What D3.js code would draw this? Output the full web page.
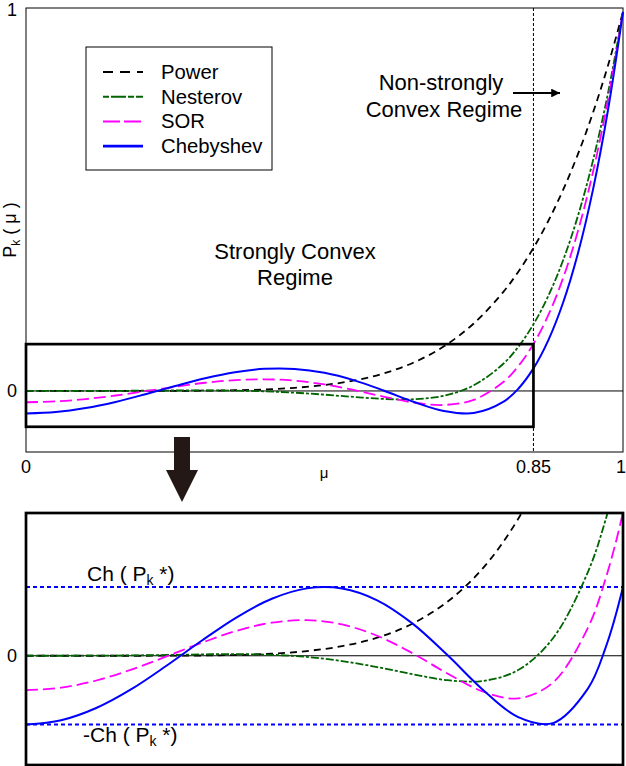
<!DOCTYPE html>
<html>
<head>
<meta charset="utf-8">
<script src="https://cdn.jsdelivr.net/npm/d3@7"></script>
<style>
  body { margin: 0; background: #fff; }
  svg { display: block; font-family: "Liberation Sans", Arial, sans-serif; }
</style>
</head>
<body>
<svg id="chart" width="626" height="766"></svg>
<script>
// values (k = 6)
const mu = [0, 0.05, 0.1, 0.15, 0.2, 0.25, 0.3, 0.35, 0.4, 0.45, 0.5, 0.55, 0.6, 0.65, 0.7, 0.75, 0.8,
            0.825, 0.85, 0.875, 0.9, 0.925, 0.95, 0.975, 1];
const power = [0, 0, 0.000001, 0.0000114, 0.000064, 0.000244, 0.000729, 0.0018, 0.0041, 0.0083, 0.0156,
               0.0277, 0.0467, 0.0754, 0.1176, 0.1780, 0.2621, 0.3153, 0.3772, 0.4488, 0.5314, 0.6264,
               0.7351, 0.8591, 1];
const nesterov = [0, 0, 0.0001, 0.0003, 0.0007, 0.0012, 0.0014, 0.0008, -0.0010, -0.0046, -0.0098,
                  -0.0159, -0.0211, -0.0218, -0.0126, 0.0149, 0.0724, 0.1172, 0.1758, 0.2510, 0.3460,
                  0.4642, 0.6095, 0.7865, 1];
const sor = [-0.0298, -0.0276, -0.0214, -0.0120, -0.0006, 0.0112, 0.0216, 0.0286, 0.0308, 0.0271, 0.0173,
             0.0023, -0.0153, -0.0308, -0.0369, -0.0233, 0.0242, 0.0662, 0.1239, 0.2004, 0.2992, 0.4242,
             0.5794, 0.7696, 1];
const chebyshev = [-0.0595, -0.0558, -0.0452, -0.0289, -0.0086, 0.0130, 0.0333, 0.0493, 0.0583, 0.0582,
                   0.0480, 0.0280, 0.0006, -0.0291, -0.0528, -0.0583, -0.0284, 0.0066, 0.0595, 0.1341,
                   0.2345, 0.3657, 0.5330, 0.7423, 1];
const chLevel = 0.0595;
const muSplit = 0.85;
const zoomBox = [-0.0945, 0.1235];
const xTickVals = [0, 0.85, 1];
const xTickText = ["0", "0.85", "1"];
const yTickVals = [0, 1];
const yTickText = ["0", "1"];
const seriesNames = ["Power", "Nesterov", "SOR", "Chebyshev"];

const svg = d3.select("#chart");
const defs = svg.append("defs");

const styles = {
  Power:     { color: "#000000", dash: "7,5",     width: 1.8, legDash: "10,7" },
  Nesterov:  { color: "#006400", dash: "8,2,3,2", width: 1.8, legDash: "6,2,15,2" },
  SOR:       { color: "#ff00ff", dash: "12,5",    width: 1.8, legDash: "17,4" },
  Chebyshev: { color: "#0000ff", dash: null,      width: 2,   legDash: null }
};
const allValues = [power, nesterov, sor, chebyshev];
const series = seriesNames.map((name, i) => ({
  name: name,
  points: mu.map((m, j) => [m, allValues[i][j]])
}));

// ---------- top panel ----------
const topBox = { left: 26, right: 623, top: 8, bottom: 452 };
const x1 = d3.scaleLinear().domain([0, 1]).range([topBox.left, topBox.right]);
const y1 = d3.scaleLinear().domain([-0.161, 1.01]).range([topBox.bottom, topBox.top]);

svg.append("rect")
  .attr("x", topBox.left).attr("y", topBox.top)
  .attr("width", topBox.right - topBox.left).attr("height", topBox.bottom - topBox.top)
  .attr("fill", "none").attr("stroke", "#000").attr("stroke-width", 1);

svg.append("line")
  .attr("x1", x1(0)).attr("x2", x1(1)).attr("y1", y1(0)).attr("y2", y1(0))
  .attr("stroke", "#000").attr("stroke-width", 1);

svg.append("line")
  .attr("x1", x1(muSplit)).attr("x2", x1(muSplit)).attr("y1", topBox.top).attr("y2", topBox.bottom)
  .attr("stroke", "#000").attr("stroke-width", 1).attr("stroke-dasharray", "3,2");

const line1 = d3.line().x(d => x1(d[0])).y(d => y1(d[1])).curve(d3.curveCatmullRom);
series.forEach(s => {
  const st = styles[s.name];
  svg.append("path")
    .attr("d", line1(s.points))
    .attr("fill", "none").attr("stroke", st.color).attr("stroke-width", st.width)
    .attr("stroke-dasharray", st.dash);
});

// zoom rectangle
svg.append("rect")
  .attr("x", x1(0)).attr("y", y1(zoomBox[1]))
  .attr("width", x1(muSplit) - x1(0)).attr("height", y1(zoomBox[0]) - y1(zoomBox[1]))
  .attr("fill", "none").attr("stroke", "#000").attr("stroke-width", 2.7);

// ticks
xTickVals.forEach((v, i) => {
  svg.append("text").attr("x", x1(v) - (v === 1 ? 2 : 0)).attr("y", 473)
    .attr("text-anchor", "middle").attr("font-size", 18).text(xTickText[i]);
});
yTickVals.forEach((v, i) => {
  svg.append("text").attr("x", 12).attr("y", y1(v) + 6.5 - (v === 1 ? 2 : 0))
    .attr("text-anchor", "middle").attr("font-size", 18).text(yTickText[i]);
});
svg.append("text").attr("x", 324).attr("y", 478)
  .attr("text-anchor", "middle").attr("font-size", 15).text("μ");

const yLab = svg.append("text")
  .attr("transform", "translate(16,230) rotate(-90)")
  .attr("text-anchor", "middle").attr("font-size", 18);
yLab.append("tspan").text("P");
yLab.append("tspan").attr("font-size", 12).attr("dy", 4).text("k");
yLab.append("tspan").attr("dy", -4).text(" ( μ )");

// legend
svg.append("rect")
  .attr("x", 86).attr("y", 47).attr("width", 186).attr("height", 123)
  .attr("fill", "#fff").attr("stroke", "#000").attr("stroke-width", 1);
seriesNames.forEach((name, i) => {
  const st = styles[name];
  const cy = 72 + i * 24.7;
  svg.append("line")
    .attr("x1", 103).attr("x2", 143).attr("y1", cy).attr("y2", cy)
    .attr("stroke", st.color).attr("stroke-width", name === "Chebyshev" ? 2.7 : 2)
    .attr("stroke-dasharray", st.legDash);
  svg.append("text").attr("x", 161).attr("y", cy + 7)
    .attr("font-size", 20.3).text(name);
});

// annotations
svg.append("text").attr("x", 295).attr("y", 259).attr("text-anchor", "middle")
  .attr("font-size", 22).text("Strongly Convex");
svg.append("text").attr("x", 295).attr("y", 285).attr("text-anchor", "middle")
  .attr("font-size", 22).text("Regime");
svg.append("text").attr("x", 441).attr("y", 90).attr("text-anchor", "middle")
  .attr("font-size", 22).text("Non-strongly");
svg.append("text").attr("x", 444).attr("y", 117).attr("text-anchor", "middle")
  .attr("font-size", 22).text("Convex Regime");

defs.append("marker")
  .attr("id", "head").attr("viewBox", "0 0 10 10").attr("refX", 10).attr("refY", 5)
  .attr("markerWidth", 5).attr("markerHeight", 4).attr("markerUnits", "strokeWidth")
  .attr("orient", "auto")
  .append("path").attr("d", "M0,0 L10,5 L0,10 Z").attr("fill", "#000");
svg.append("line")
  .attr("x1", 513).attr("x2", 560).attr("y1", 93).attr("y2", 93)
  .attr("stroke", "#000").attr("stroke-width", 2.2).attr("marker-end", "url(#head)");

// big down arrow
svg.append("path")
  .attr("d", "M174,437 L190,437 L190,470 L198,470 L182,502 L166,470 L174,470 Z")
  .attr("fill", "#231815");

// ---------- bottom panel ----------
const botBox = { left: 26, right: 623, top: 513, bottom: 765 };
const x2 = d3.scaleLinear().domain([0, muSplit]).range([botBox.left, botBox.right]);
const y2 = d3.scaleLinear().domain(zoomBox).range([botBox.bottom, botBox.top]);

defs.append("clipPath").attr("id", "clipBot")
  .append("rect").attr("x", botBox.left).attr("y", botBox.top)
  .attr("width", botBox.right - botBox.left).attr("height", botBox.bottom - botBox.top);

const gb = svg.append("g").attr("clip-path", "url(#clipBot)");
gb.append("line")
  .attr("x1", botBox.left).attr("x2", botBox.right).attr("y1", y2(0)).attr("y2", y2(0))
  .attr("stroke", "#000").attr("stroke-width", 1);
[chLevel, -chLevel].forEach(v => {
  gb.append("line")
    .attr("x1", botBox.left).attr("x2", botBox.right).attr("y1", y2(v)).attr("y2", y2(v))
    .attr("stroke", "#0000ff").attr("stroke-width", 2).attr("stroke-dasharray", "4,3");
});

const line2 = d3.line().x(d => x2(d[0])).y(d => y2(d[1])).curve(d3.curveCatmullRom);
series.forEach(s => {
  const st = styles[s.name];
  gb.append("path")
    .attr("d", line2(s.points))
    .attr("fill", "none").attr("stroke", st.color).attr("stroke-width", st.width)
    .attr("stroke-dasharray", st.dash);
});

svg.append("rect")
  .attr("x", botBox.left).attr("y", botBox.top)
  .attr("width", botBox.right - botBox.left).attr("height", botBox.bottom - botBox.top)
  .attr("fill", "none").attr("stroke", "#000").attr("stroke-width", 2.7);

svg.append("text").attr("x", 12).attr("y", y2(0) + 6.5)
  .attr("text-anchor", "middle").attr("font-size", 18).text("0");

function chLabel(xPos, yPos, prefix) {
  const t = svg.append("text").attr("x", xPos).attr("y", yPos).attr("font-size", 21);
  t.append("tspan").text(prefix + "Ch ( P");
  t.append("tspan").attr("font-size", 14).attr("dy", 4).text("k");
  t.append("tspan").attr("dy", -4).text(" *)");
}
chLabel(87, 581, "");
chLabel(83, 742, "-");
</script>
</body>
</html>
